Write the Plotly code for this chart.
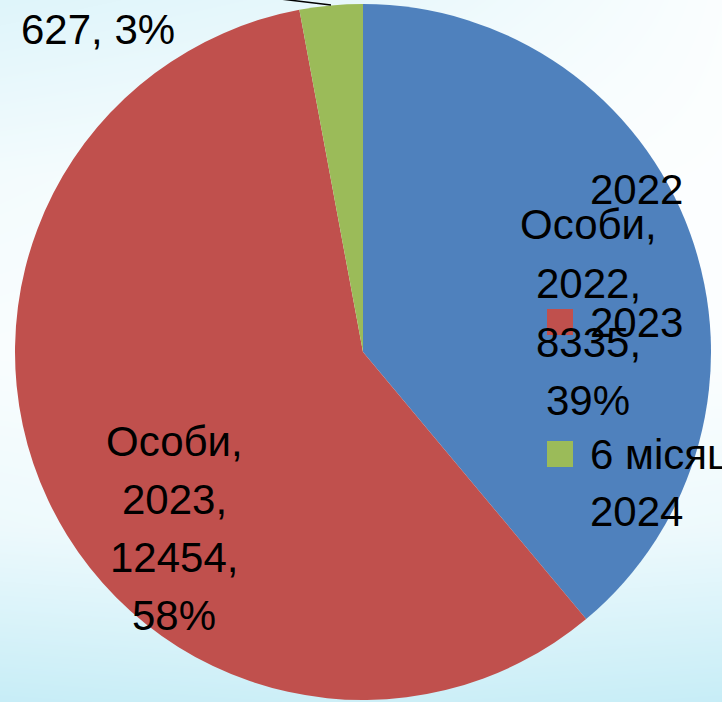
import plotly.graph_objects as go

# ---- data ----
series_name = "Особи"
categories = ["2022", "2023", "6 місяців 2024"]
legend_labels = ["2022", "2023", "6 місяців<br>2024"]
values = [8335, 12454, 627]
colors = ["#4F81BD", "#C0504D", "#9BBB59"]

W, H = 722, 702
total = sum(values)
pcts = [round(v / total * 100) for v in values]

def px(x):
    return x / W

def py(y):
    return (H - y) / H

fig = go.Figure()

# background gradient (decorative)
bg_x = [0, 0.5, 1]
bg_y = [0, 0.25, 0.5, 0.75, 1]
bg_z = [
    [0.95, 0.85, 0.95],
    [0.30, 0.20, 0.30],
    [0.10, 0.05, 0.05],
    [0.20, 0.10, 0.05],
    [0.55, 0.40, 0.08],
]
fig.add_trace(go.Heatmap(
    x=bg_x, y=bg_y, z=bg_z, zsmooth="best", showscale=False, hoverinfo="skip",
    colorscale=[[0, "#ffffff"], [1, "#c4ecf6"]], zmin=0, zmax=1,
))

fig.add_trace(go.Pie(
    labels=categories, values=values, sort=False, direction="clockwise", rotation=0,
    marker=dict(colors=colors, line=dict(width=0)),
    textinfo="none", showlegend=False, hoverinfo="label+value+percent",
    domain=dict(x=[px(14), px(712)], y=[py(700), py(4)]),
))

font = dict(family="Liberation Sans, Arial, sans-serif", size=42, color="#000000")
annotations = []

def add_lines(lines, xc, ys, align="center", xanchor="center"):
    for t, y in zip(lines, ys):
        annotations.append(dict(
            text=t, x=px(xc), y=py(y), xref="paper", yref="paper",
            xanchor=xanchor, yanchor="middle", showarrow=False, font=font, align=align,
        ))

# data labels
add_lines([f"{series_name},", f"{categories[0]},", f"{values[0]},", f"{pcts[0]}%"], 588, [225, 283, 342, 400])
add_lines([f"{series_name},", f"{categories[1]},", f"{values[1]},", f"{pcts[1]}%"], 174, [441, 499, 557, 615])
add_lines([f"{values[2]}, {pcts[2]}%"], 98, [30])

# legend (manual, overlapping as in the reference)
shapes = []
leg_y = [190, 322, 454]
for lab, col, yc in zip(legend_labels, colors, leg_y):
    shapes.append(dict(type="rect", xref="paper", yref="paper",
                       x0=px(547), x1=px(573), y0=py(yc + 13), y1=py(yc - 13),
                       fillcolor=col, line=dict(width=0)))
    parts = lab.split("<br>")
    add_lines(parts, 588, [yc + 58 * i for i in range(len(parts))], align="left", xanchor="left")

# leader line for the small slice label
shapes.append(dict(type="line", xref="paper", yref="paper",
                   x0=px(272), y0=py(-2), x1=px(331), y1=py(5),
                   line=dict(color="#000000", width=1.5)))

fig.update_layout(
    width=W, height=H,
    margin=dict(l=0, r=0, t=0, b=0),
    paper_bgcolor="#ffffff", plot_bgcolor="#ffffff",
    xaxis=dict(visible=False, range=[0, 1], domain=[0, 1], fixedrange=True),
    yaxis=dict(visible=False, range=[0, 1], domain=[0, 1], fixedrange=True),
    annotations=annotations, shapes=shapes, showlegend=False,
)

fig.write_html(
    "out.html",
    config={"displayModeBar": False},
    post_script="document.body.style.margin='0';document.body.style.overflow='hidden';",
)
